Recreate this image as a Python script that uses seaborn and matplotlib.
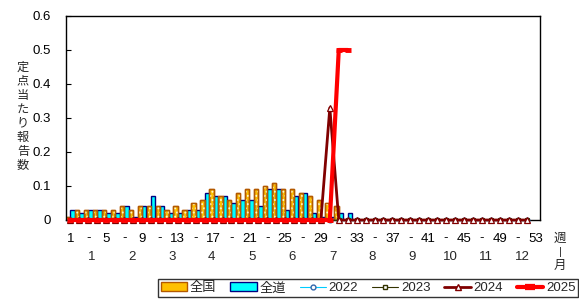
import numpy as np
import pandas as pd
import matplotlib
matplotlib.use("Agg")
import matplotlib.pyplot as plt
import seaborn as sns
from matplotlib.lines import Line2D
from matplotlib.patches import Patch, Rectangle

sns.set_theme(style="white")
plt.rcParams['font.family'] = ['Liberation Sans', 'Noto Sans CJK JP', 'DejaVu Sans']
plt.rcParams['hatch.linewidth'] = 0.9

# ---- data ----
weeks = list(range(1, 54))
national = [0.01, 0.03, 0.03, 0.03, 0.03, 0.03, 0.04, 0.03, 0.04, 0.04,
            0.04, 0.03, 0.04, 0.03, 0.05, 0.06, 0.09, 0.07, 0.06, 0.08,
            0.09, 0.09, 0.10, 0.11, 0.09, 0.09, 0.08, 0.07, 0.06, 0.05,
            0.04, 0.00]
hokkaido = [0.03, 0.02, 0.03, 0.03, 0.02, 0.02, 0.04, 0.01, 0.04, 0.07,
            0.04, 0.02, 0.02, 0.03, 0.03, 0.08, 0.07, 0.07, 0.05, 0.06,
            0.06, 0.04, 0.09, 0.09, 0.03, 0.07, 0.08, 0.02, 0.01, 0.01,
            0.02, 0.02]
y2022 = [0.0] * 52
y2023 = [0.0] * 52
y2024 = [0.0] * 29 + [0.33] + [0.0] * 22
y2025 = [0.0] * 30 + [0.50, 0.50]
week_labels = ["1", "-", "5", "-", "9", "-", "13", "-", "17", "-", "21", "-", "25", "-",
               "29", "-", "33", "-", "37", "-", "41", "-", "45", "-", "49", "-", "53"]
months = ["1", "2", "3", "4", "5", "6", "7", "8", "9", "10", "11", "12"]
month_pos = [3.4, 7.9, 12.4, 16.8, 21.3, 25.8, 30.3, 34.7, 39.2, 43.5, 47.5, 51.5]
yticks = [0, 0.1, 0.2, 0.3, 0.4, 0.5, 0.6]
ylabel = "定点当たり報告数"

NAT_FC, NAT_EC = "#FFC000", "#B35900"
HOK_FC, HOK_EC = "#00FFFF", "#000080"

# ---- figure ----
fig = plt.figure(figsize=(5.79, 2.99), dpi=100)
ax = fig.add_axes([66/579, 79/299, 474/579, 204/299])

n_nat = len(national)
n_hok = len(hokkaido)
bars = pd.DataFrame({
    "week": weeks[:n_nat] + weeks[:n_hok],
    "value": national + hokkaido,
    "series": ["全国"] * n_nat + ["全道"] * n_hok,
})
sns.barplot(data=bars, x="week", y="value", hue="series", native_scale=True,
            palette={"全国": NAT_FC, "全道": HOK_FC}, width=0.98, gap=0,
            dodge=True, saturation=1, legend=False, ax=ax, zorder=2)

nat_patches = []
for p in list(ax.patches):
    fc = p.get_facecolor()
    if abs(fc[0] - 1.0) < 0.01 and abs(fc[2]) < 0.01:
        p.set_edgecolor(NAT_EC)
        nat_patches.append(p)
    else:
        p.set_edgecolor(HOK_EC)
    p.set_linewidth(1.0)
for p in nat_patches:
    if p.get_height() > 0:
        ax.add_patch(Rectangle(p.get_xy(), p.get_width(), p.get_height(),
                               facecolor="none", edgecolor="#FFF8D0", hatch="....",
                               linewidth=0, zorder=2.1))
        ax.add_patch(Rectangle(p.get_xy(), p.get_width(), p.get_height(),
                               facecolor="none", edgecolor=NAT_EC, linewidth=1.0,
                               zorder=2.2))

def line(vals, color, lw, marker, ms, mfc, mec, mew):
    d = pd.DataFrame({"week": weeks[:len(vals)], "v": vals})
    sns.lineplot(data=d, x="week", y="v", ax=ax, color=color, linewidth=lw,
                 marker=marker, markersize=ms, markerfacecolor=mfc,
                 markeredgecolor=mec, markeredgewidth=mew, clip_on=False,
                 zorder=3, legend=False)

line(y2022, "#00CCFF", 0.8, "o", 3.5, "white", "#3366AA", 0.8)
line(y2023, "#333300", 0.8, "s", 3.5, "white", "#333300", 0.8)
line(y2024, "#800000", 2.0, "^", 4.5, "white", "#800000", 0.9)
line(y2025, "#FF0000", 3.0, "_", 4.5, "#FF0000", "#FF0000", 3.5)

ax.set_xlim(0.5, 53.5)
ax.set_ylim(0, 0.6)
ax.set_yticks(yticks)
ax.set_yticklabels(["0"] + [f"{t:.1f}" for t in yticks[1:]])
ax.set_xticks(list(range(1, 54, 2)))
ax.set_xticklabels(week_labels)
ax.tick_params(axis="x", length=0, labelsize=9.5, pad=9, colors="black")
ax.tick_params(axis="y", length=3.5, width=0.8, direction="in", labelsize=9.5,
               pad=11, left=True, colors="black")
ax.set_xlabel("")
ax.set_ylabel("")
for s in ax.spines.values():
    s.set_color("black")
    s.set_linewidth(1.0)

for m, pos in zip(months, month_pos):
    ax.text(pos, -0.18, m, transform=ax.get_xaxis_transform(), ha="center",
            va="center", fontsize=9.5)

fig.text(560/579, 1 - 238/299, "週", ha="center", va="center", fontsize=9,
         family=['Noto Sans CJK JP'])
fig.text(560/579, 1 - 252/299, "|", ha="center", va="center", fontsize=8)
fig.text(560/579, 1 - 265/299, "月", ha="center", va="center", fontsize=9,
         family=['Noto Sans CJK JP'])
fig.text(23/579, 1 - 116/299, "\n".join(ylabel), ha="center", va="center",
         fontsize=8.8, linespacing=1.1, family=['Noto Sans CJK JP'])

handles = [
    Patch(facecolor=NAT_FC, edgecolor=NAT_EC, label="全国"),
    Patch(facecolor=HOK_FC, edgecolor=HOK_EC, label="全道"),
    Line2D([], [], color="#00CCFF", lw=0.8, marker="o", ms=3.5, mfc="white",
           mec="#3366AA", label="2022"),
    Line2D([], [], color="#333300", lw=0.8, marker="s", ms=3.5, mfc="white",
           mec="#333300", label="2023"),
    Line2D([], [], color="#800000", lw=2.0, marker="^", ms=4.5, mfc="white",
           mec="#800000", label="2024"),
    Line2D([], [], color="#FF0000", lw=3.0, marker="_", ms=7, mew=4.5,
           mec="#FF0000", label="2025"),
]
leg = fig.legend(handles=handles, loc="lower right", bbox_to_anchor=(578/579, 2/299),
                 ncol=6, frameon=True, numpoints=1, handlelength=2.0,
                 handletextpad=0.2, columnspacing=1.05, borderpad=0.2,
                 borderaxespad=0, fancybox=False,
                 prop={'family': ['Liberation Sans', 'Noto Sans CJK JP'], 'size': 9.5})
leg.get_frame().set_edgecolor("black")
leg.get_frame().set_linewidth(1.0)

fig.savefig("out.png", dpi=100)
